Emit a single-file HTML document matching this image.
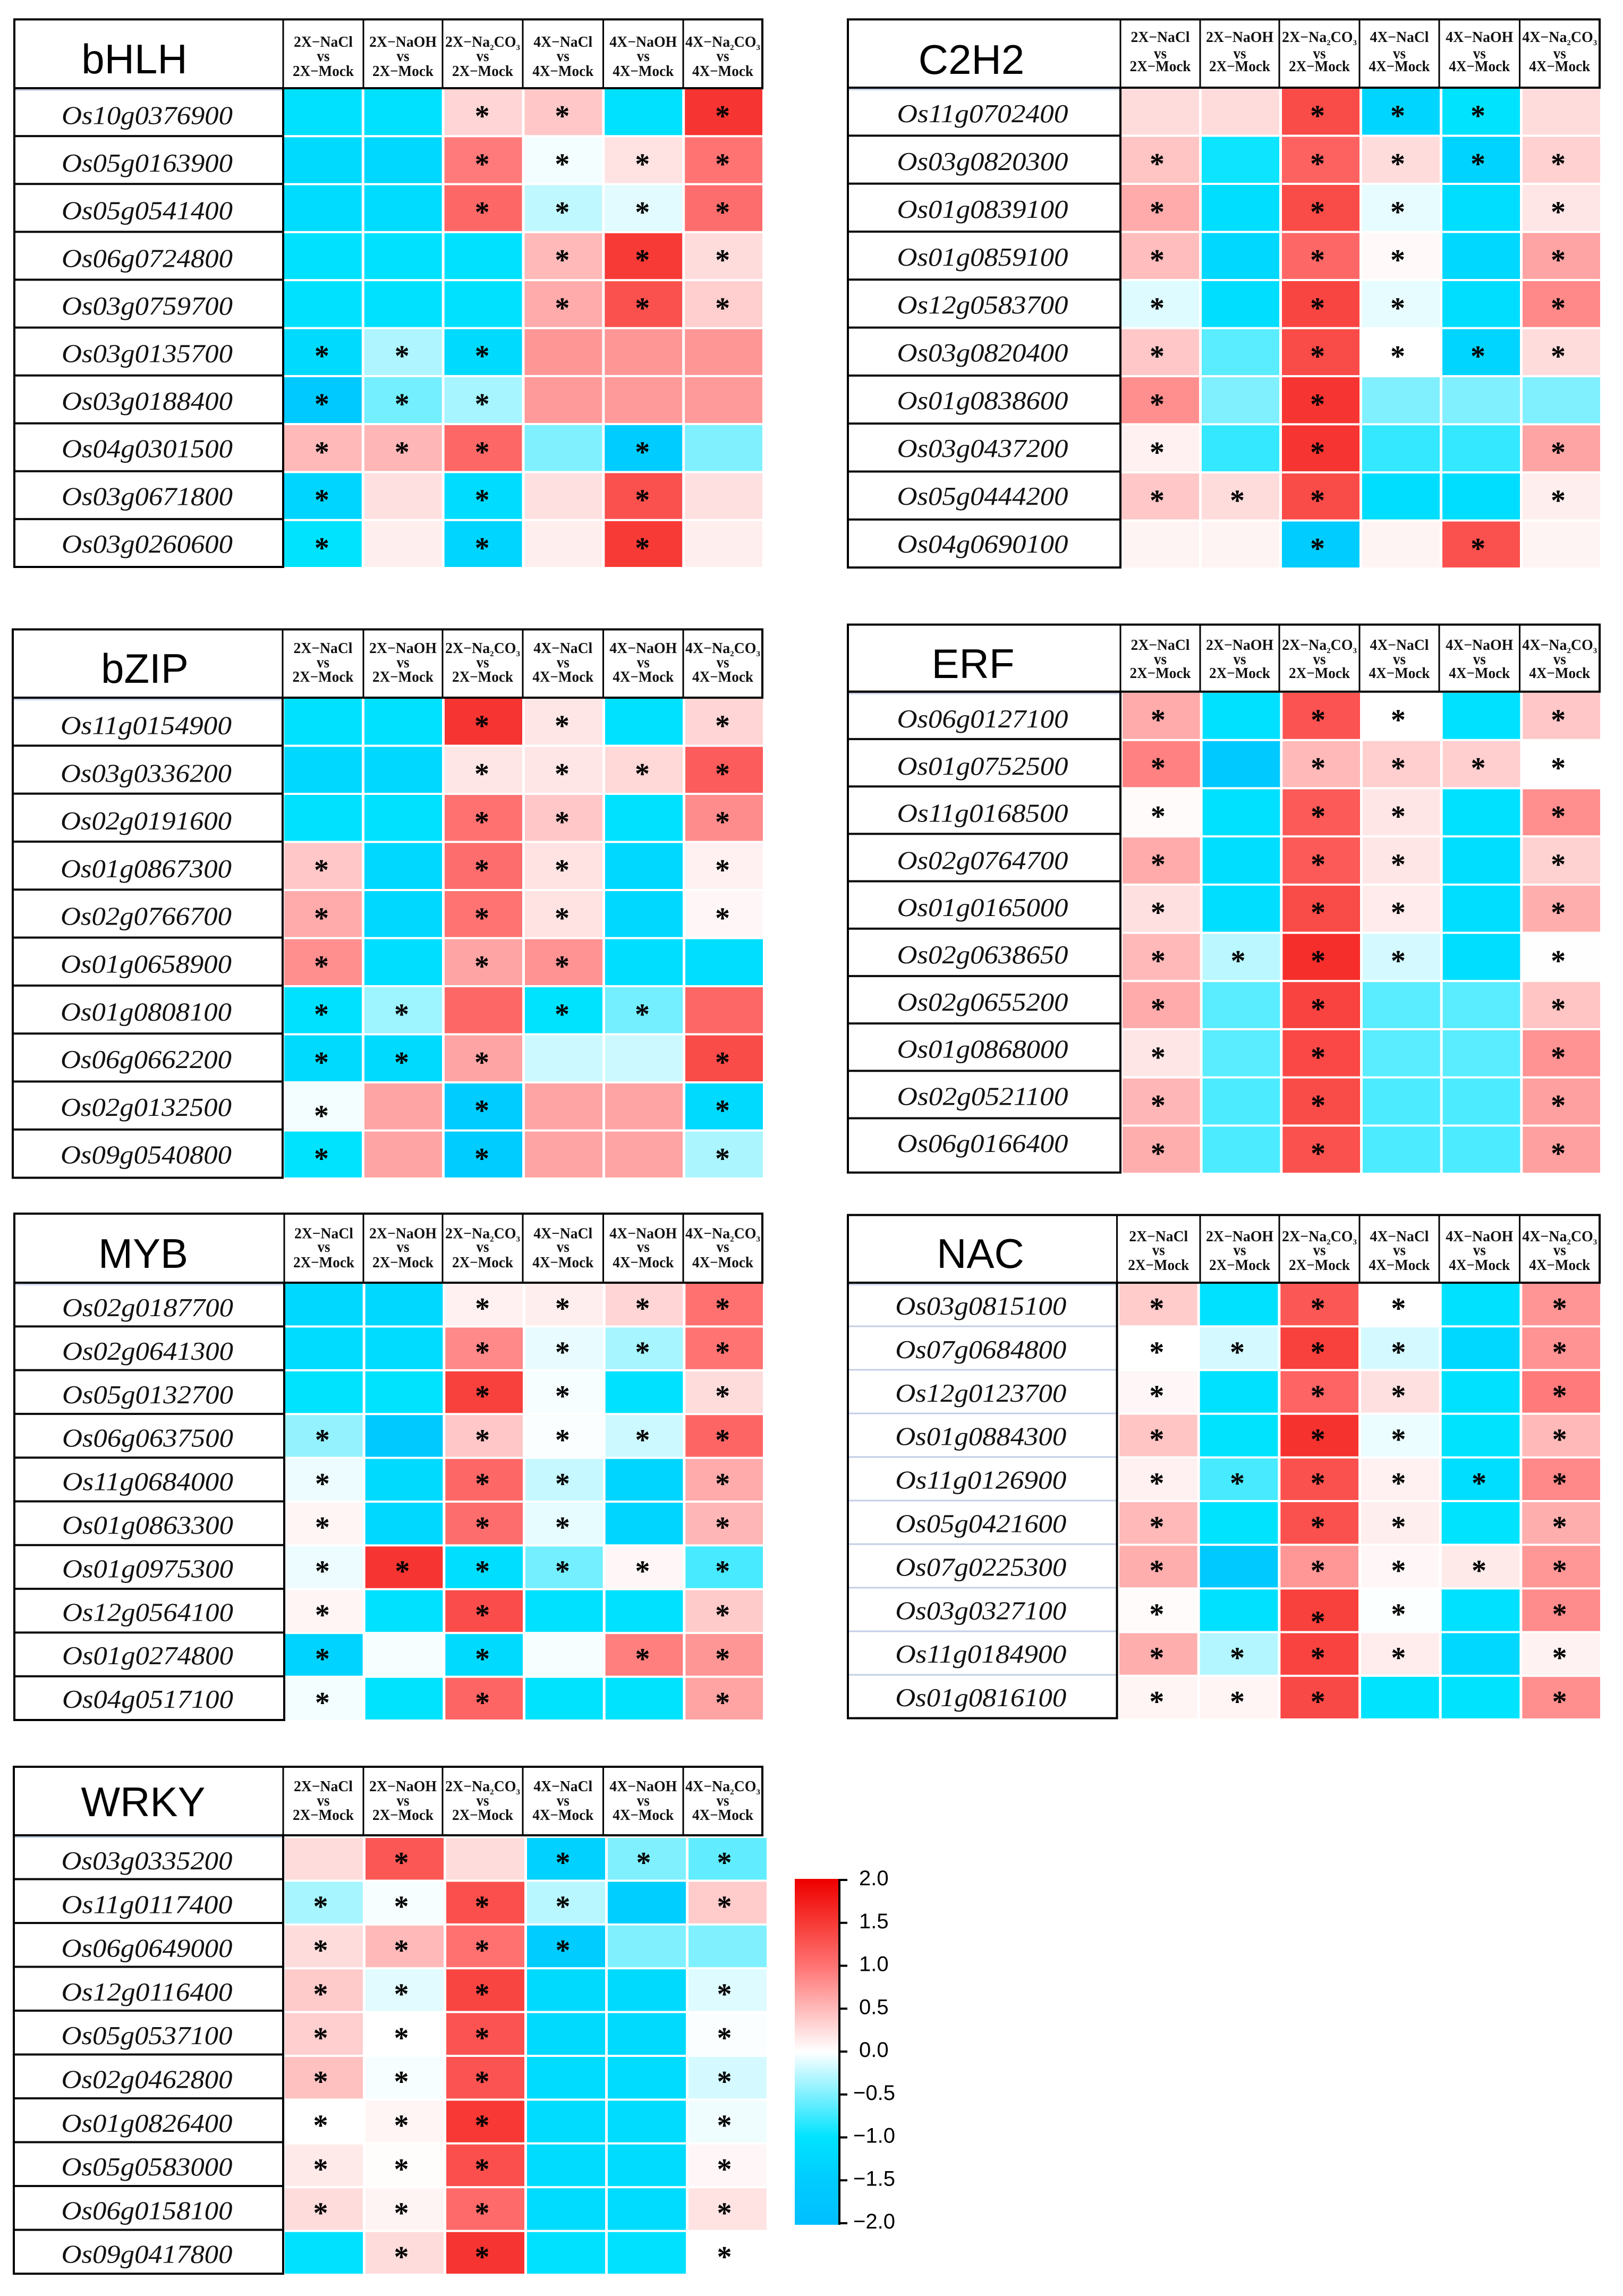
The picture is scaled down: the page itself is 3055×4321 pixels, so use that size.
<!DOCTYPE html>
<html lang="en">
<head>
<meta charset="utf-8">
<title>Transcription factor expression heatmaps</title>
<style>
  html, body { margin: 0; padding: 0; background: #ffffff; }
  svg { display: block; }
</style>
</head>
<body>
<svg id="figure" xmlns="http://www.w3.org/2000/svg" width="3055" height="4321" viewBox="0 0 3055 4321">
  <rect x="0" y="0" width="3055" height="4321" fill="#ffffff"></rect>
</svg>
<script>
// ---------- shared labels ----------
const treatments = ['2X−NaCl', '2X−NaOH', '2X−Na2CO3', '4X−NaCl', '4X−NaOH', '4X−Na2CO3'];
const controls = ['2X−Mock', '2X−Mock', '2X−Mock', '4X−Mock', '4X−Mock', '4X−Mock'];
const colorbarTicks = [2.0, 1.5, 1.0, 0.5, 0.0, -0.5, -1.0, -1.5, -2.0];
const colorbarTickLabels = ['2.0', '1.5', '1.0', '0.5', '0.0', '−0.5', '−1.0', '−1.5', '−2.0'];

// ---------- bHLH ----------
const bhlhGenes = ['Os10g0376900', 'Os05g0163900', 'Os05g0541400', 'Os06g0724800', 'Os03g0759700', 'Os03g0135700', 'Os03g0188400', 'Os04g0301500', 'Os03g0671800', 'Os03g0260600'];
const bhlhValues = [
  [-1.05, -1.05, 0.3, 0.4, -1.05, 1.55],
  [-1.2, -1.25, 0.95, -0.05, 0.2, 1.0],
  [-1.15, -1.15, 1.1, -0.25, -0.12, 1.05],
  [-1.05, -1.05, -1.05, 0.5, 1.5, 0.25],
  [-1.05, -1.05, -1.05, 0.6, 1.3, 0.35],
  [-1.2, -0.32, -1.2, 0.75, 0.75, 0.75],
  [-1.6, -0.55, -0.35, 0.72, 0.72, 0.72],
  [0.5, 0.52, 1.1, -0.5, -1.5, -0.5],
  [-1.3, 0.22, -1.15, 0.22, 1.3, 0.22],
  [-1.0, 0.12, -1.3, 0.12, 1.5, 0.12]
];
const bhlhStars = ['001101', '001111', '001111', '000111', '000111', '111000', '111000', '111010', '101010', '101010'];

// ---------- C2H2 ----------
const c2h2Genes = ['Os11g0702400', 'Os03g0820300', 'Os01g0839100', 'Os01g0859100', 'Os12g0583700', 'Os03g0820400', 'Os01g0838600', 'Os03g0437200', 'Os05g0444200', 'Os04g0690100'];
const c2h2Values = [
  [0.25, 0.25, 1.35, -1.3, -1.0, 0.25],
  [0.42, -0.95, 1.15, 0.25, -1.35, 0.33],
  [0.6, -1.1, 1.35, -0.1, -1.1, 0.18],
  [0.47, -1.25, 1.1, 0.04, -1.25, 0.65],
  [-0.13, -1.1, 1.4, -0.1, -1.1, 0.85],
  [0.4, -0.65, 1.35, 0.0, -1.3, 0.25],
  [0.8, -0.5, 1.55, -0.5, -0.5, -0.5],
  [0.1, -0.8, 1.55, -0.8, -0.8, 0.65],
  [0.4, 0.25, 1.35, -1.1, -1.1, 0.12],
  [0.08, 0.08, -1.5, 0.08, 1.3, 0.08]
];
const c2h2Stars = ['001110', '101111', '101101', '101101', '101101', '101111', '101000', '101001', '111001', '001010'];

// ---------- bZIP ----------
const bzipGenes = ['Os11g0154900', 'Os03g0336200', 'Os02g0191600', 'Os01g0867300', 'Os02g0766700', 'Os01g0658900', 'Os01g0808100', 'Os06g0662200', 'Os02g0132500', 'Os09g0540800'];
const bzipValues = [
  [-1.05, -1.05, 1.55, 0.18, -1.05, 0.3],
  [-1.25, -1.25, 0.18, 0.18, 0.28, 1.2],
  [-1.05, -1.05, 1.02, 0.4, -1.05, 0.82],
  [0.4, -1.25, 1.05, 0.2, -1.25, 0.1],
  [0.6, -1.25, 1.0, 0.2, -1.25, 0.06],
  [0.8, -1.1, 0.65, 0.78, -1.1, -1.1],
  [-1.05, -0.38, 1.1, -1.0, -0.55, 1.1],
  [-1.2, -1.2, 0.65, -0.2, -0.2, 1.35],
  [-0.05, 0.65, -1.5, 0.65, 0.65, -1.2],
  [-1.0, 0.65, -1.5, 0.65, 0.65, -0.33]
];
const bzipStars = ['001101', '001111', '001101', '101101', '101101', '101100', '110110', '111001', '101001', '101001'];

// ---------- ERF ----------
const erfGenes = ['Os06g0127100', 'Os01g0752500', 'Os11g0168500', 'Os02g0764700', 'Os01g0165000', 'Os02g0638650', 'Os02g0655200', 'Os01g0868000', 'Os02g0521100', 'Os06g0166400'];
const erfValues = [
  [0.6, -1.05, 1.28, 0.0, -1.05, 0.4],
  [0.9, -1.6, 0.5, 0.35, 0.35, 0.0],
  [0.03, -1.05, 1.22, 0.18, -1.05, 0.8],
  [0.6, -1.1, 1.22, 0.18, -1.1, 0.32],
  [0.22, -1.1, 1.35, 0.14, -1.1, 0.58],
  [0.5, -0.27, 1.6, -0.17, -1.1, 0.01],
  [0.6, -0.65, 1.42, -0.65, -0.65, 0.42],
  [0.18, -0.65, 1.38, -0.65, -0.65, 0.78],
  [0.52, -0.7, 1.35, -0.7, -0.7, 0.68],
  [0.58, -0.7, 1.3, -0.7, -0.7, 0.68]
];
const erfStars = ['101101', '101111', '101101', '101101', '101101', '111101', '101001', '101001', '101001', '101001'];

// ---------- MYB ----------
const mybGenes = ['Os02g0187700', 'Os02g0641300', 'Os05g0132700', 'Os06g0637500', 'Os11g0684000', 'Os01g0863300', 'Os01g0975300', 'Os12g0564100', 'Os01g0274800', 'Os04g0517100'];
const mybValues = [
  [-1.25, -1.25, 0.1, 0.12, 0.3, 1.02],
  [-1.15, -1.15, 0.85, -0.09, -0.35, 1.0],
  [-1.0, -1.0, 1.45, -0.03, -1.05, 0.25],
  [-0.42, -1.6, 0.4, -0.02, -0.2, 1.12],
  [-0.07, -1.2, 1.1, -0.23, -1.3, 0.6],
  [0.07, -1.25, 1.05, -0.1, -1.3, 0.52],
  [-0.07, 1.55, -1.1, -0.55, 0.06, -0.72],
  [0.07, -1.05, 1.33, -1.05, -1.05, 0.38],
  [-1.35, -0.03, -1.2, -0.03, 0.92, 0.75],
  [-0.05, -1.0, 1.12, -1.0, -1.0, 0.66]
];
const mybStars = ['001111', '001111', '001101', '101111', '101101', '101101', '111111', '101001', '101011', '101001'];

// ---------- NAC ----------
const nacGenes = ['Os03g0815100', 'Os07g0684800', 'Os12g0123700', 'Os01g0884300', 'Os11g0126900', 'Os05g0421600', 'Os07g0225300', 'Os03g0327100', 'Os11g0184900', 'Os01g0816100'];
const nacValues = [
  [0.37, -1.05, 1.25, 0.0, -1.05, 0.76],
  [0.0, -0.17, 1.45, -0.17, -1.25, 0.78],
  [0.06, -1.05, 1.13, 0.22, -1.05, 0.95],
  [0.42, -1.0, 1.57, -0.08, -1.0, 0.5],
  [0.1, -0.72, 1.3, 0.1, -1.1, 0.85],
  [0.5, -1.0, 1.3, 0.12, -1.0, 0.58],
  [0.58, -1.6, 0.74, 0.06, 0.15, 0.74],
  [0.03, -1.05, 1.45, -0.01, -1.05, 0.82],
  [0.58, -0.3, 1.42, 0.13, -1.25, 0.09],
  [0.07, 0.07, 1.37, -1.0, -1.0, 0.8]
];
const nacStars = ['101101', '111101', '101101', '101101', '111111', '101101', '101111', '101101', '111101', '111001'];

// ---------- WRKY ----------
const wrkyGenes = ['Os03g0335200', 'Os11g0117400', 'Os06g0649000', 'Os12g0116400', 'Os05g0537100', 'Os02g0462800', 'Os01g0826400', 'Os05g0583000', 'Os06g0158100', 'Os09g0417800'];
const wrkyValues = [
  [0.25, 1.25, 0.25, -1.4, -0.5, -0.62],
  [-0.35, -0.03, 1.32, -0.28, -1.45, 0.37],
  [0.25, 0.5, 1.02, -1.5, -0.5, -0.5],
  [0.38, -0.12, 1.4, -1.2, -1.2, -0.13],
  [0.35, 0.0, 1.28, -1.2, -1.2, -0.02],
  [0.45, -0.03, 1.28, -1.15, -1.15, -0.17],
  [0.0, 0.07, 1.52, -1.15, -1.15, -0.06],
  [0.15, 0.02, 1.32, -1.15, -1.15, 0.06],
  [0.25, 0.08, 1.08, -1.15, -1.15, 0.2],
  [-1.05, 0.25, 1.55, -1.05, -1.05, 0.0]
];
const wrkyStars = ['010111', '111101', '111100', '111001', '111001', '111001', '111001', '111001', '111001', '011001'];

// ---------- layout ----------
const leftCols = [684, 833, 984, 1135.5, 1286, 1435];
const rightCols = [2259, 2408, 2559, 2709, 2860.5, 3011];
const panels = [
  { title: 'bHLH', genes: bhlhGenes, values: bhlhValues, stars: bhlhStars, left: 27, labelEnd: 533, cols: leftCols, top: 36.5, head: 166, bottom: 1067, rowStep: 90.1, textY0: 217.5, textStep: 89.6, cellX0: 535, cellX1: 1435, cellY0: 168, cellY1: 1067, starDx: -2, titleX: 253, titleY: 138, hdr: [88, 115, 143], nudge: {} },
  { title: 'C2H2', genes: c2h2Genes, values: c2h2Values, stars: c2h2Stars, left: 1596, labelEnd: 2109, cols: rightCols, top: 36.5, head: 165, bottom: 1068, rowStep: 90.3, textY0: 214, textStep: 90, cellX0: 2111, cellX1: 3012, cellY0: 167, cellY1: 1068, starDx: -6, titleX: 1828.5, titleY: 139, hdr: [79, 110, 134], nudge: {} },
  { title: 'bZIP', genes: bzipGenes, values: bzipValues, stars: bzipStars, left: 24, labelEnd: 532, cols: leftCols, top: 1184.5, head: 1313, bottom: 2216.5, rowStep: 90.3, textY0: 1365.5, textStep: 89.8, cellX0: 535, cellX1: 1436, cellY0: 1315, cellY1: 2216, starDx: -3, titleX: 272.5, titleY: 1285, hdr: [1229, 1256, 1283], nudge: { '8,0': 10 } },
  { title: 'ERF', genes: erfGenes, values: erfValues, stars: erfStars, left: 1596, labelEnd: 2109, cols: rightCols, top: 1175.5, head: 1301.7, bottom: 2206.7, rowStep: 89.2, textY0: 1353, textStep: 88.8, cellX0: 2113, cellX1: 3012, cellY0: 1304, cellY1: 2207, starDx: -6, titleX: 1831.5, titleY: 1276, hdr: [1223, 1250, 1276], nudge: {} },
  { title: 'MYB', genes: mybGenes, values: mybValues, stars: mybStars, left: 27, labelEnd: 535, cols: leftCols, top: 2284, head: 2414, bottom: 3237, rowStep: 82.3, textY0: 2461, textStep: 81.9, cellX0: 537, cellX1: 1436, cellY0: 2416, cellY1: 3236, starDx: -3, titleX: 269.5, titleY: 2386, hdr: [2330.6, 2356, 2385], nudge: {} },
  { title: 'NAC', genes: nacGenes, values: nacValues, stars: nacStars, left: 1596, labelEnd: 2102.5, cols: rightCols, top: 2286.6, head: 2414, bottom: 3233.6, rowStep: 82, textY0: 2458, textStep: 81.9, cellX0: 2107, cellX1: 3012, cellY0: 2416, cellY1: 3234, starDx: -3, titleX: 1845.5, titleY: 2386, hdr: [2336, 2362, 2390], nudge: { '7,2': 14 }, thinRows: true },
  { title: 'WRKY', genes: wrkyGenes, values: wrkyValues, stars: wrkyStars, left: 26, labelEnd: 533, cols: leftCols, top: 3325, head: 3454, bottom: 4279, rowStep: 82.5, textY0: 3502, textStep: 82.3, cellX0: 536, cellX1: 1443, cellY0: 3459, cellY1: 4279, starDx: -6, titleX: 269.5, titleY: 3418, hdr: [3371, 3398, 3425], nudge: {} }
];

// ---------- colour scale ----------
const scaleStops = [
  [-2.0, [0, 191, 255]],
  [-1.5, [0, 204, 255]],
  [-1.0, [0, 227, 255]],
  [-0.5, [128, 240, 255]],
  [0.0, [255, 255, 255]],
  [0.5, [255, 185, 185]],
  [1.0, [255, 115, 115]],
  [1.5, [247, 58, 54]],
  [2.0, [238, 0, 0]]
];
function colorOf(v) {
  const c = Math.max(-2, Math.min(2, v));
  for (let i = 0; i < scaleStops.length - 1; i++) {
    const a = scaleStops[i], b = scaleStops[i + 1];
    if (c <= b[0]) {
      const t = (c - a[0]) / (b[0] - a[0]);
      const rgb = a[1].map(function (ch, k) { return Math.round(ch + (b[1][k] - ch) * t); });
      return 'rgb(' + rgb.join(',') + ')';
    }
  }
  return 'rgb(238,0,0)';
}

// ---------- drawing helpers ----------
const NS = 'http://www.w3.org/2000/svg';
const root = document.getElementById('figure');
function make(tag, parent, props) {
  const el = document.createElementNS(NS, tag);
  for (const k in props) { el.setAttribute(k, props[k]); }
  parent.appendChild(el);
  return el;
}
function addHeaderLine(parent, str, x, y, len, size) {
  const t = make('text', parent, { x: x, y: y, 'text-anchor': 'middle', 'font-family': '"Liberation Serif", serif', 'font-weight': 'bold', 'font-size': size, fill: '#111111', textLength: len, lengthAdjust: 'spacingAndGlyphs' });
  
  
  const m = str.match(/^(.*Na)2(CO)3$/);
  if (!m) { t.textContent = str; return; }
  const a = make('tspan', t, {}); a.textContent = m[1];
  const b = make('tspan', t, { dy: 6, 'font-size': 15 }); b.textContent = '2';
  const c = make('tspan', t, { dy: -6 }); c.textContent = m[2];
  const d = make('tspan', t, { dy: 6, 'font-size': 15 }); d.textContent = '3';
}

// ---------- panels ----------
const cellGapX = 5;
const cellGapY = 4;
panels.forEach(function (p) {
  const g = make('g', root, {});
  
  

  const nRows = p.genes.length;
  const nCols = treatments.length;
  const cellW = (p.cellX1 - p.cellX0 - (nCols - 1) * cellGapX) / nCols;
  const cellH = (p.cellY1 - p.cellY0 - (nRows - 1) * cellGapY) / nRows;
  const colX = function (c) { return p.cellX0 + c * (cellW + cellGapX); };
  const rowY = function (r) { return p.cellY0 + r * (cellH + cellGapY); };
  const labelRowY = function (r) { return p.head + p.rowStep * r; };

  // heat cells
  p.values.forEach(function (row, r) {
    row.forEach(function (v, c) {
      const cell = make('rect', g, { x: colX(c), y: rowY(r), width: cellW, height: cellH, fill: colorOf(v) });
      
      
      if (p.stars[r].charAt(c) === '1') {
        const nudge = p.nudge[r + ',' + c] || 0;
        const star = make('text', g, { x: colX(c) + cellW / 2 + p.starDx, y: rowY(r) + cellH / 2 + 26 + nudge, 'text-anchor': 'middle', 'font-family': '"Liberation Serif", serif', 'font-weight': 'bold', 'font-size': 56, fill: '#000000' });
        
        
        star.textContent = '*';
      }
    });
  });

  // label column rows
  const band = make('rect', g, { x: p.left, y: p.head + 2, width: p.labelEnd - p.left, height: 3, fill: '#c8d3e8' });
  
  
  p.genes.forEach(function (gene, r) {
    const t = make('text', g, { x: (p.left + p.labelEnd) / 2 - 3, y: p.textY0 + p.textStep * r + 16, 'text-anchor': 'middle', 'font-family': '"Liberation Serif", serif', 'font-style': 'italic', 'font-size': 49, fill: '#111111', textLength: 322, lengthAdjust: 'spacingAndGlyphs' });
    
    
    t.textContent = gene;
    if (r > 0) {
      const line = make('rect', g, p.thinRows
        ? { x: p.left + 2, y: labelRowY(r) - 1.5, width: p.labelEnd - p.left - 2, height: 3, fill: '#c3cee6' }
        : { x: p.left, y: labelRowY(r) - 2, width: p.labelEnd - p.left, height: 4, fill: '#0a0a0a' });
      
      
    }
  });

  // borders
  const labelBox = make('rect', g, { x: p.left, y: p.head, width: p.labelEnd - p.left, height: p.bottom - p.head, fill: 'none', stroke: '#000000', 'stroke-width': 4 });
  
  
  const headBox = make('rect', g, { x: p.left, y: p.top, width: p.cols[nCols - 1] - p.left, height: p.head - p.top, fill: 'none', stroke: '#000000', 'stroke-width': 4 });
  
  
  const splitLines = [p.labelEnd].concat(p.cols.slice(0, nCols - 1));
  splitLines.forEach(function (x) {
    const v = make('rect', g, { x: x - 1.5, y: p.top, width: 3, height: p.head - p.top, fill: '#000000' });
    
    
  });

  // titles + headers
  const title = make('text', g, { x: p.titleX, y: p.titleY, 'text-anchor': 'middle', 'font-family': '"Liberation Sans", sans-serif', 'font-size': 78, fill: '#000000' });
  
  
  title.textContent = p.title;

  treatments.forEach(function (tr, c) {
    const x0 = c === 0 ? p.labelEnd : p.cols[c - 1];
    const x1 = p.cols[c];
    const cx = (x0 + x1) / 2;
    addHeaderLine(g, tr, cx, p.hdr[0], /CO/.test(tr) ? 141 : (/OH/.test(tr) ? 127 : 111), 28);
    addHeaderLine(g, 'vs', cx, p.hdr[1], 24, 30);
    addHeaderLine(g, controls[c], cx, p.hdr[2], 115, 28);
  });
});

// ---------- colour bar ----------
const barX = 1496, barW = 83, barTop = 3536, barBottom = 4187;
const tickY = function (v) { return 3861 - v * 161.5; };
const defs = make('defs', root, {});
const grad = make('linearGradient', defs, { id: 'barGradient', x1: 0, y1: 0, x2: 0, y2: 1 });
scaleStops.slice().reverse().forEach(function (s) {
  const stop = make('stop', grad, { offset: (tickY(s[0]) - barTop) / (barBottom - barTop), 'stop-color': colorOf(s[0]) });
});
const legend = make('g', root, {});


const bar = make('rect', legend, { x: barX, y: barTop, width: barW, height: barBottom - barTop, fill: 'url(#barGradient)' });


const axis = make('rect', legend, { x: 1578, y: barTop, width: 4, height: barBottom - barTop, fill: '#000000' });


colorbarTicks.forEach(function (v, i) {
  const tick = make('rect', legend, { x: 1580, y: tickY(v) - 2, width: 15, height: 4, fill: '#000000' });
  
  
  const label = make('text', legend, { x: v < 0 ? 1606 : 1617, y: tickY(v) + 10, 'font-family': '"Liberation Sans", sans-serif', 'font-size': 40, fill: '#000000' });
  
  
  label.textContent = colorbarTickLabels[i];
});
</script>
</body>
</html>
